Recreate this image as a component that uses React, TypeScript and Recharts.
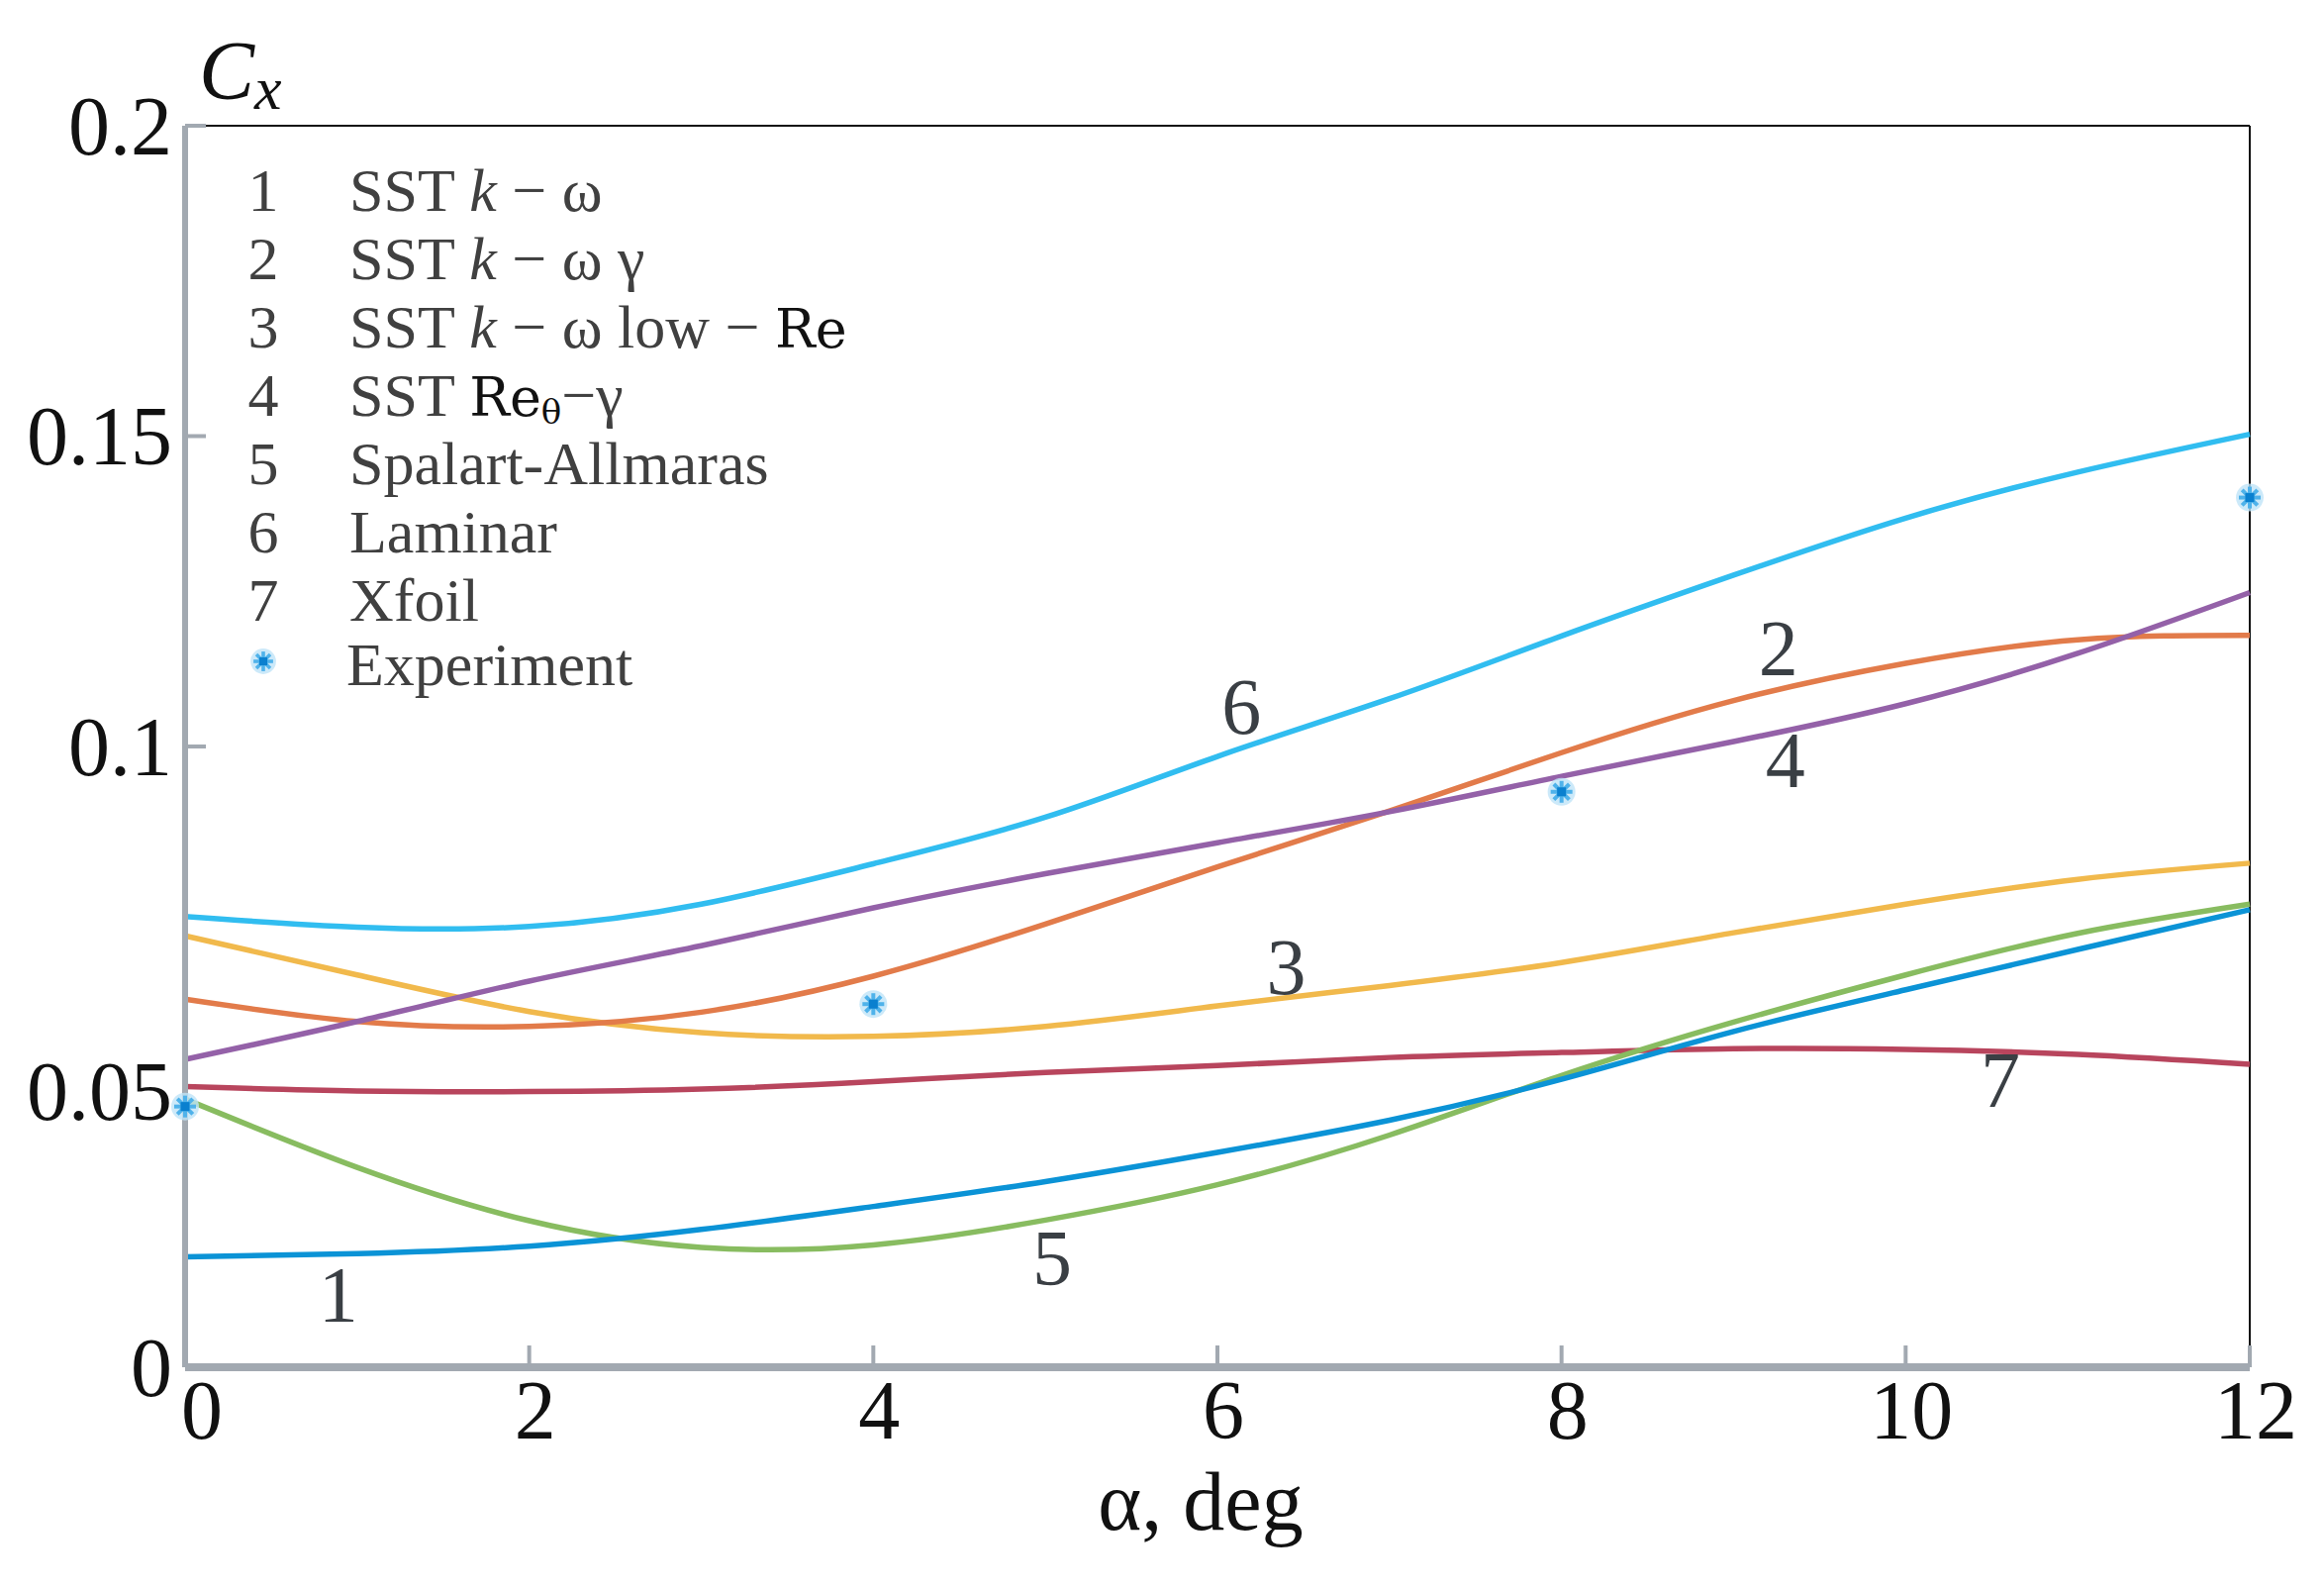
import {
  ComposedChart,
  Line,
  Scatter,
  XAxis,
  YAxis,
  ReferenceLine,
  ReferenceDot,
  Legend,
  Label,
} from "recharts";

const FONT = '"Liberation Serif", "Times New Roman", serif';

// angle of attack, deg
const ALPHA = [0, 1, 2, 3, 4, 5, 6, 7, 8, 9, 10, 11, 12];

// Cx per model
const SST_KW = [0.0178, 0.0183, 0.0195, 0.0222, 0.0259, 0.0299, 0.0346, 0.0398, 0.0464, 0.0541, 0.0608, 0.0673, 0.0737];
const SST_KW_GAMMA = [0.0593, 0.0557, 0.0549, 0.0572, 0.0630, 0.0714, 0.0806, 0.0896, 0.0990, 0.1074, 0.1134, 0.1172, 0.1179];
const SST_LOW_RE = [0.0695, 0.0632, 0.0573, 0.0539, 0.0533, 0.0549, 0.0582, 0.0615, 0.0652, 0.0700, 0.0746, 0.0786, 0.0812];
const SST_RETHETA = [0.0496, 0.0557, 0.0622, 0.0679, 0.0740, 0.0795, 0.0845, 0.0895, 0.0952, 0.1008, 0.1069, 0.1150, 0.1248];
const SPALART = [0.0432, 0.0322, 0.0236, 0.0193, 0.0197, 0.0237, 0.0294, 0.0374, 0.0470, 0.0556, 0.0632, 0.0699, 0.0746];
const LAMINAR = [0.0726, 0.0709, 0.0710, 0.0746, 0.0811, 0.0886, 0.0984, 0.1077, 0.1178, 0.1276, 0.1368, 0.1442, 0.1503];
const XFOIL = [0.0452, 0.0445, 0.0444, 0.0448, 0.0460, 0.0475, 0.0486, 0.0499, 0.0507, 0.0513, 0.0512, 0.0504, 0.0488];

const EXP_ALPHA = [0, 4, 8, 12];
const EXP_CX = [0.042, 0.0585, 0.0927, 0.1401];

const X_TICKS = [0, 2, 4, 6, 8, 10, 12];
const Y_TICKS = [0, 0.05, 0.1, 0.15, 0.2];

// curve number tags: [text, alpha, Cx]
const TAGS: [string, number, number][] = [
  ["1", 0.89, 0.0118],
  ["2", 9.26, 0.116],
  ["3", 6.4, 0.0646],
  ["4", 9.3, 0.098],
  ["5", 5.04, 0.0177],
  ["6", 6.14, 0.1066],
  ["7", 10.55, 0.0465],
];

const COLORS = {
  s1: "#0b93d6",
  s2: "#e27b4a",
  s3: "#f1b94c",
  s4: "#9461a8",
  s5: "#88bc60",
  s6: "#31bdf0",
  s7: "#b8455d",
};

const data = ALPHA.map((a, i) => ({
  alpha: a,
  s1: SST_KW[i],
  s2: SST_KW_GAMMA[i],
  s3: SST_LOW_RE[i],
  s4: SST_RETHETA[i],
  s5: SPALART[i],
  s6: LAMINAR[i],
  s7: XFOIL[i],
}));

const expData = EXP_ALPHA.map((a, i) => ({ alpha: a, exp: EXP_CX[i] }));

const AXIS_GRAY = "#a2a9b1";

function YTick({ x, y, payload }: any) {
  const v = payload.value;
  const shift = v === 0.05 ? 35 : 0;
  return (
    <g>
      {v !== 0 && v !== 0.05 && (
        <line x1={x} x2={x + 21} y1={y} y2={y} stroke={AXIS_GRAY} strokeWidth={4} />
      )}
      <text
        x={x - 13}
        y={y + shift}
        textAnchor="end"
        dominantBaseline="central"
        fontFamily={FONT}
        fontSize={84}
        fill="#111"
      >
        {String(v)}
      </text>
    </g>
  );
}

function XTick({ x, y, payload }: any) {
  const v = payload.value;
  return (
    <g>
      {v !== 0 && (
        <line x1={x} x2={x} y1={y} y2={y - 22} stroke={AXIS_GRAY} strokeWidth={4} />
      )}
      <text
        x={x + (v === 0 ? 17 : 6)}
        y={y + 72}
        textAnchor="middle"
        fontFamily={FONT}
        fontSize={84}
        fill="#111"
      >
        {String(v)}
      </text>
    </g>
  );
}

function XTitle({ viewBox }: any) {
  const vb = viewBox || { x: 179, y: 1373, width: 2086, height: 100 };
  return (
    <text
      x={vb.x + vb.width / 2 - 17}
      y={vb.y + 164}
      textAnchor="middle"
      fontFamily={FONT}
      fontSize={84}
      fill="#111"
    >
      α, deg
    </text>
  );
}

function YTitle({ viewBox }: any) {
  const vb = viewBox || { x: 79, y: 119, width: 100, height: 1254 };
  const left = vb.x + vb.width;
  return (
    <text x={left + 14} y={vb.y - 27} fontFamily={FONT} fill="#111" fontStyle="italic">
      <tspan fontSize={84}>C</tspan>
      <tspan fontSize={62} dy={10}>
        x
      </tspan>
    </text>
  );
}

function Star({ cx, cy, size = 1 }: any) {
  const r = 11 * size;
  return (
    <g>
      <circle cx={cx} cy={cy} r={r + 3} fill="#bfe3f7" opacity={0.8} />
      {[0, 45, 90, 135].map((deg) => {
        const t = (deg * Math.PI) / 180;
        return (
          <line
            key={deg}
            x1={cx - r * Math.cos(t)}
            y1={cy - r * Math.sin(t)}
            x2={cx + r * Math.cos(t)}
            y2={cy + r * Math.sin(t)}
            stroke="#4fb2ea"
            strokeWidth={4 * size}
          />
        );
      })}
      <rect x={cx - 4.5 * size} y={cy - 4.5 * size} width={9 * size} height={9 * size} fill="#0a80cf" />
    </g>
  );
}

const RE_STYLE = { fontFamily: '"DejaVu Serif", serif', fontSize: 54, color: "#111" };

const LEGEND_ROWS = [
  { num: "1", text: <>SST <i>k</i> − ω</> },
  { num: "2", text: <>SST <i>k</i> − ω γ</> },
  {
    num: "3",
    text: (
      <>
        SST <i>k</i> − ω low − <span style={RE_STYLE}>Re</span>
      </>
    ),
  },
  {
    num: "4",
    text: (
      <>
        SST{" "}
        <span style={RE_STYLE}>
          Re
          <span style={{ fontSize: 34, lineHeight: "34px", position: "relative", top: 8 }}>θ</span>
        </span>
        −γ
      </>
    ),
  },
  { num: "5", text: <>Spalart-Allmaras</> },
  { num: "6", text: <>Laminar</> },
  { num: "7", text: <>Xfoil</> },
];

const ROW_STYLE = {
  display: "flex",
  whiteSpace: "nowrap" as const,
  height: 69,
  lineHeight: "69px",
  overflow: "visible" as const,
};

function LegendBox() {
  return (
    <div style={{ fontFamily: FONT, fontSize: 62, color: "#404040" }}>
      {LEGEND_ROWS.map((r) => (
        <div key={r.num} style={ROW_STYLE}>
          <span style={{ width: 52, textAlign: "center" }}>{r.num}</span>
          <span style={{ marginLeft: 61 }}>{r.text}</span>
        </div>
      ))}
      <div style={{ ...ROW_STYLE, height: 62, marginTop: -4 }}>
        <span style={{ width: 52, display: "flex", justifyContent: "center", alignItems: "center" }}>
          <svg width={30} height={30}>
            <Star cx={15} cy={15} size={0.9} />
          </svg>
        </span>
        <span style={{ marginLeft: 58 }}>Experiment</span>
      </div>
    </div>
  );
}

export default function App() {
  return (
    <div style={{ position: "relative", width: 2340, height: 1598, background: "#fff" }}>
      <ComposedChart
        width={2340}
        height={1598}
        data={data}
        margin={{ top: 119, right: 75, bottom: 125, left: 79 }}
      >
        <XAxis
          dataKey="alpha"
          type="number"
          domain={[0, 12]}
          ticks={X_TICKS}
          height={100}
          tickSize={0}
          tickMargin={0}
          tickLine={false}
          axisLine={{ stroke: AXIS_GRAY, strokeWidth: 8 }}
          tick={(p: any) => <XTick {...p} />}
          label={<XTitle />}
        />
        <YAxis
          type="number"
          domain={[0, 0.2]}
          ticks={Y_TICKS}
          width={100}
          tickSize={0}
          tickMargin={0}
          tickLine={false}
          axisLine={{ stroke: AXIS_GRAY, strokeWidth: 6 }}
          tick={(p: any) => <YTick {...p} />}
          label={<YTitle />}
        />
        <ReferenceLine y={0.2} stroke="#111" strokeWidth={2} />
        <ReferenceLine x={12} stroke="#111" strokeWidth={2} />

        <Line dataKey="s7" type="natural" stroke={COLORS.s7} strokeWidth={5.5} dot={false} isAnimationActive={false} />
        <Line dataKey="s3" type="natural" stroke={COLORS.s3} strokeWidth={5.5} dot={false} isAnimationActive={false} />
        <Line dataKey="s2" type="natural" stroke={COLORS.s2} strokeWidth={5.5} dot={false} isAnimationActive={false} />
        <Line dataKey="s4" type="natural" stroke={COLORS.s4} strokeWidth={5.5} dot={false} isAnimationActive={false} />
        <Line dataKey="s6" type="natural" stroke={COLORS.s6} strokeWidth={5.5} dot={false} isAnimationActive={false} />
        <Line dataKey="s5" type="natural" stroke={COLORS.s5} strokeWidth={5.5} dot={false} isAnimationActive={false} />
        <Line dataKey="s1" type="natural" stroke={COLORS.s1} strokeWidth={5.5} dot={false} isAnimationActive={false} />

        <Scatter
          data={expData}
          dataKey="exp"
          isAnimationActive={false}
          shape={(p: any) => <Star cx={p.cx} cy={p.cy} />}
        />

        {TAGS.map(([t, a, c]) => (
          <ReferenceDot key={t} x={a} y={c} r={0.1} fill="none" stroke="none">
            <Label
              value={t}
              position="center"
              fontFamily={FONT}
              fontSize={80}
              fill="#3a3f44"
            />
          </ReferenceDot>
        ))}

        <Legend
          layout="vertical"
          align="center"
          verticalAlign="middle"
          content={() => <LegendBox />}
          wrapperStyle={{ left: 232, top: 150, width: "auto", height: "auto" }}
        />
      </ComposedChart>
    </div>
  );
}
